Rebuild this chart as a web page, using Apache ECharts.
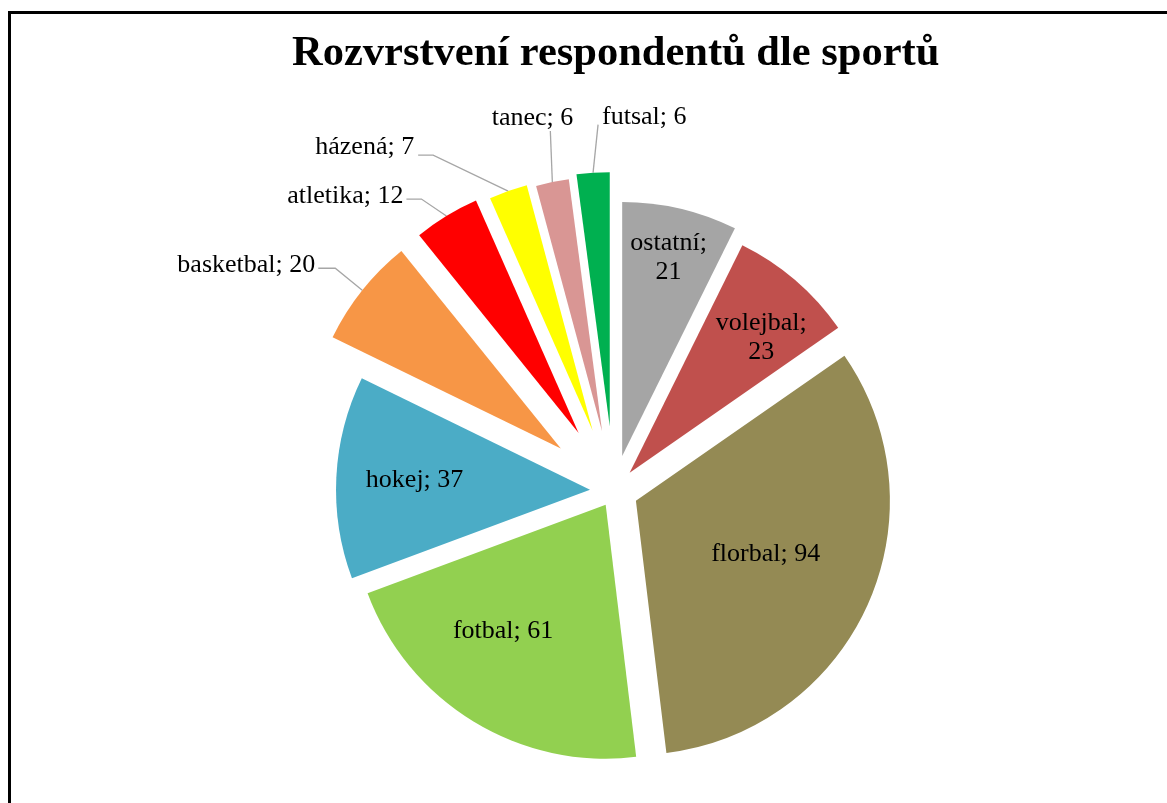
<!DOCTYPE html>
<html>
<head>
<meta charset="utf-8">
<script src="https://cdn.jsdelivr.net/npm/echarts@6/dist/echarts.min.js"></script>
<style>
  html, body { margin: 0; padding: 0; background: #fff; overflow: hidden; }
  .frame { position: absolute; left: 8px; top: 11px; width: 1190px; height: 900px; border: 3px solid #000; box-sizing: border-box; }
  #chart { position: absolute; left: 0; top: 0; width: 1167px; height: 803px; }
</style>
</head>
<body>
<div class="frame"></div>
<div id="chart"></div>
<script>
  // data
  const categories = ['ostatní', 'volejbal', 'florbal', 'fotbal', 'hokej', 'basketbal', 'atletika', 'házená', 'tanec', 'futsal'];
  const counts = [21, 23, 94, 61, 37, 20, 12, 7, 6, 6];

  // styles
  const colors = ['#A5A5A5', '#C0504D', '#948A54', '#92D050', '#4BACC6', '#F79646', '#FF0000', '#FFFF00', '#D99694', '#00B050'];
  const explode = { 'ostatní': 36, volejbal: 24, florbal: 24, fotbal: 16, hokej: 24, basketbal: 68, atletika: 68, 'házená': 64, tanec: 61, futsal: 65 };
  // [ratio of radius, angle shift] for labels drawn inside the slice
  const insideLabels = { 'ostatní': [0.79, 0], volejbal: [0.73, 3.6], florbal: [0.54, -2], fotbal: [0.63, 7.8], hokej: [0.68, 0.4] };
  const wrapLabels = ['ostatní', 'volejbal'];
  // leader lines: elbow relative to the slice edge, horizontal part, text shift
  const leaders = {
    basketbal: { elbow: [-27, -22], len2: 17, dx: -3, dy: -3, align: 'right', vAlign: 'middle' },
    atletika: { elbow: [-25, -17], len2: 15, dx: -3, dy: -3, align: 'right', vAlign: 'middle' },
    'házená': { elbow: [-75, -36], len2: 15, dx: -4, dy: -8, align: 'right', vAlign: 'middle' },
    tanec: { elbow: [-2, -51], len2: 0, dx: 23, dy: 2, align: 'right', vAlign: 'bottom' },
    futsal: { elbow: [5, -48], len2: 0, dx: 4, dy: 7, align: 'left', vAlign: 'bottom' }
  };

  const CX = 614, CY = 491, R = 254;
  const FONT = 'Liberation Serif';

  const total = counts.reduce((a, b) => a + b, 0);
  function midAngle(i) {
    let before = 0;
    for (let j = 0; j < i; j++) before += counts[j];
    return (before + counts[i] / 2) / total * 360;
  }
  function sliceCenter(i) {
    const m = midAngle(i) * Math.PI / 180;
    const d = explode[categories[i]];
    return [CX + d * Math.sin(m), CY - d * Math.cos(m)];
  }

  function layoutLabel(params) {
    const i = params.dataIndex;
    const name = categories[i];
    const mid = midAngle(i);
    const m = mid * Math.PI / 180;
    if (insideLabels[name]) {
      const ratio = insideLabels[name][0];
      const a = (mid + insideLabels[name][1]) * Math.PI / 180;
      return {
        dx: ratio * R * Math.sin(a) - R / 2 * Math.sin(m),
        dy: -ratio * R * Math.cos(a) + R / 2 * Math.cos(m)
      };
    }
    const l = leaders[name];
    const c = sliceCenter(i);
    const p0 = [c[0] + R * Math.sin(m), c[1] - R * Math.cos(m)];
    const p1 = [p0[0] + l.elbow[0], p0[1] + l.elbow[1]];
    const p2 = [p1[0] - l.len2, p1[1]];
    return {
      x: p2[0] + l.dx,
      y: p2[1] + l.dy,
      align: l.align,
      verticalAlign: l.vAlign,
      labelLinePoints: [p0, p1, p2]
    };
  }

  let myChart = echarts.init(document.getElementById('chart'));

  // one pie per slice so each slice can have its own explosion
  let series = categories.map(function (name, i) {
    const inside = !!insideLabels[name];
    return {
      type: 'pie',
      silent: true,
      center: sliceCenter(i),
      radius: R,
      startAngle: 90,
      clockwise: true,
      avoidLabelOverlap: false,
      itemStyle: { borderWidth: 0 },
      emphasis: { disabled: true },
      labelLayout: layoutLabel,
      data: categories.map(function (n, j) {
        const own = j === i;
        return {
          name: n,
          value: counts[j],
          itemStyle: { color: own ? colors[j] : 'rgba(0,0,0,0)' },
          label: {
            show: own,
            position: inside ? 'inside' : 'outside',
            formatter: wrapLabels.indexOf(n) >= 0 ? '{b};\n{c}' : '{b}; {c}',
            color: '#000',
            fontFamily: FONT,
            fontSize: 26,
            lineHeight: 29,
            distanceToLabelLine: 3
          },
          labelLine: {
            show: own && !inside,
            length: 20,
            length2: 10,
            lineStyle: { color: '#A6A6A6', width: 1.3 }
          }
        };
      })
    };
  });

  myChart.setOption({
    animation: false,
    title: {
      text: 'Rozvrstvení respondentů dle sportů',
      left: 287,
      top: 28,
      textStyle: { fontFamily: FONT, fontSize: 42.5, fontWeight: 'bold', color: '#000' }
    },
    series: series
  });
</script>
</body>
</html>
